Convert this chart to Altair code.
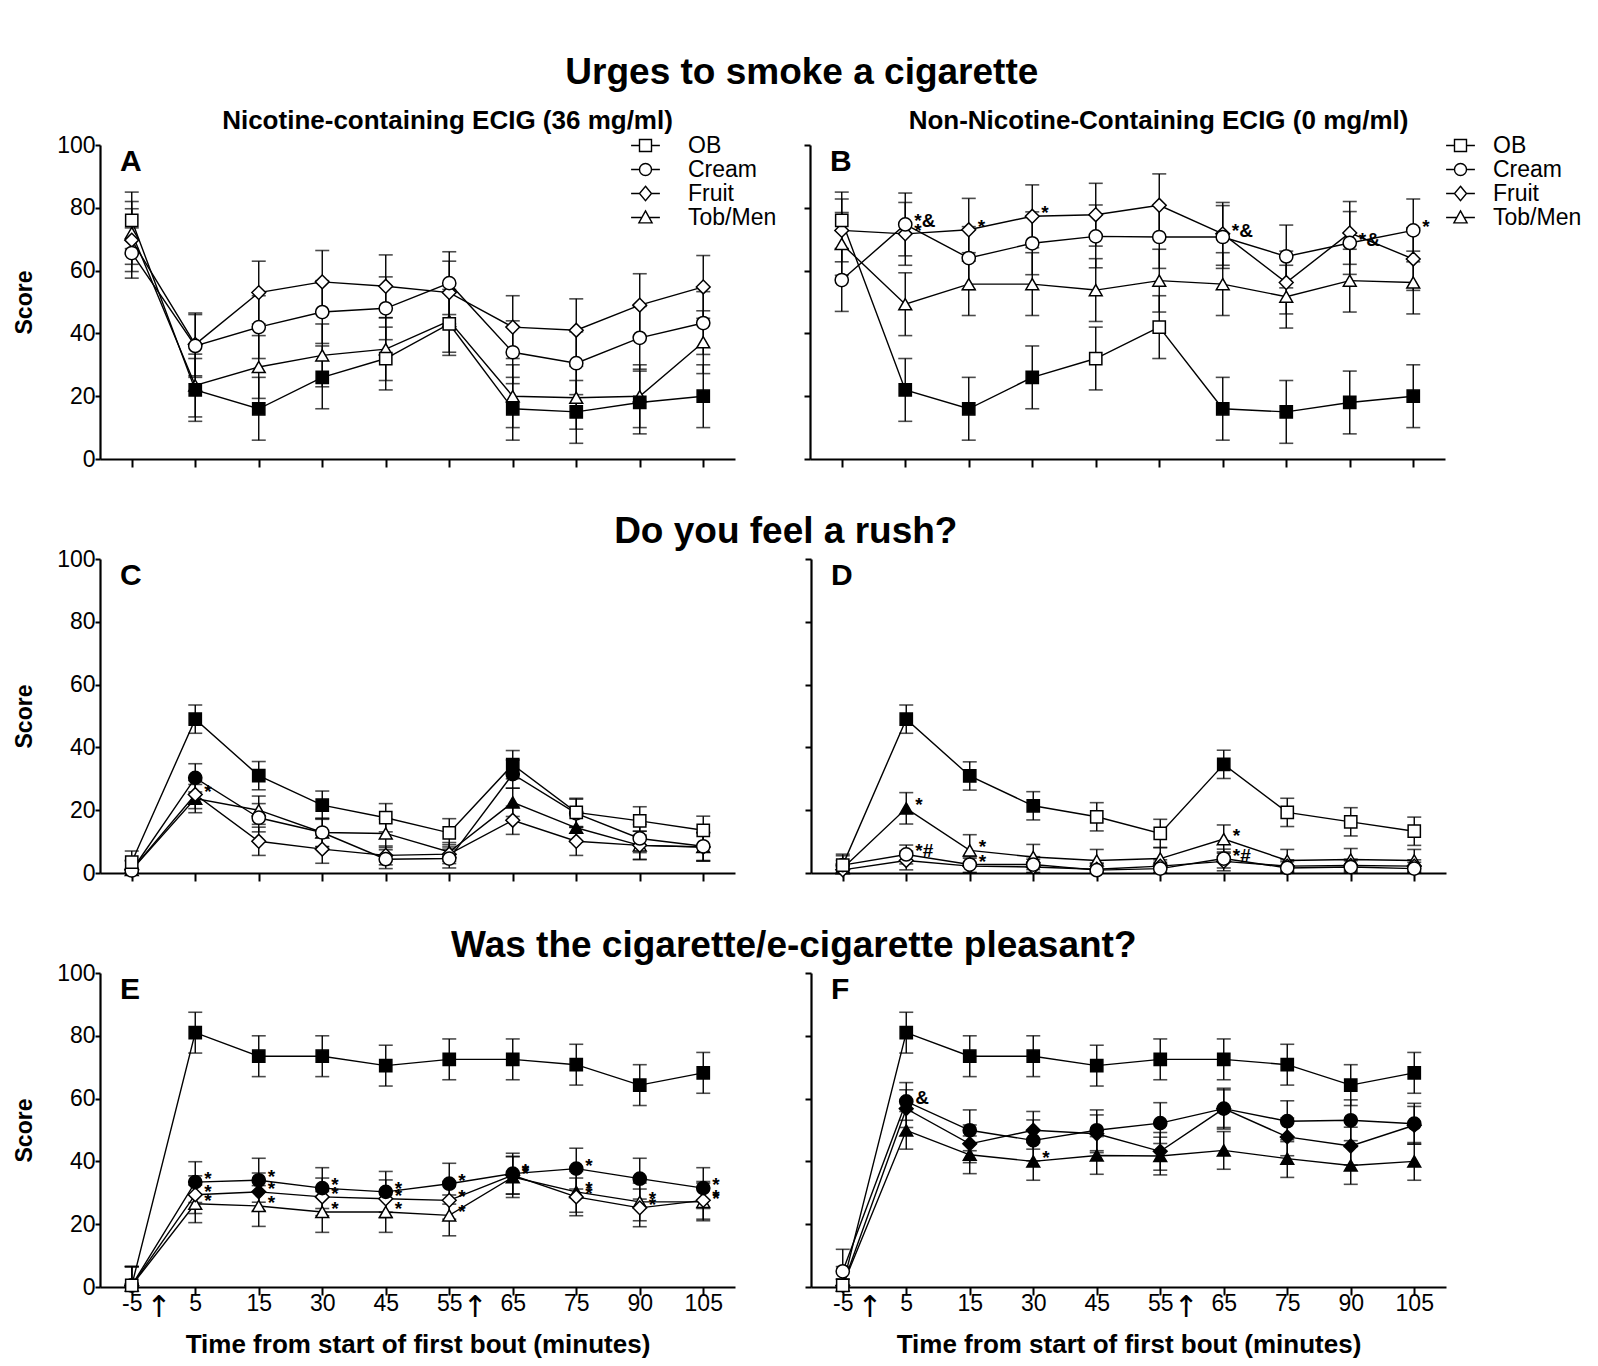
import altair as alt
import pandas as pd

FONT = "Liberation Sans"
TIME_LABELS = ["-5", "5", "15", "30", "45", "55", "65", "75", "90", "105"]
SERIES = ["OB", "Cream", "Fruit", "Tob/Men"]

# ---------------- Panel A: urges, nicotine-containing ECIG ----------------
A_OB = [76, 22, 16, 26, 32, 43, 16, 15, 18, 20]
A_OB_ERR = [9, 10, 10, 10, 10, 10, 10, 10, 10, 10]
A_OB_FILL = [0, 1, 1, 1, 0, 0, 1, 1, 1, 1]
A_CREAM = [65.6, 36, 42, 46.8, 48, 56, 34, 30.5, 38.6, 43.3]
A_CREAM_ERR = [8, 10, 10, 10, 10, 10, 10, 10, 10, 10]
A_FRUIT = [69.7, 36.5, 53, 56.4, 55, 53, 42, 41, 49, 54.8]
A_FRUIT_ERR = [10, 10, 10, 10, 10, 10, 10, 10, 10, 10]
A_TOB = [72, 23.4, 29.3, 33, 35, 44, 20, 19.5, 20, 37.2]
A_TOB_ERR = [10, 10, 10, 10, 10, 10, 10, 10, 10, 10]

# ---------------- Panel B: urges, non-nicotine ECIG ----------------
B_OB = [76, 22, 16, 26, 32, 42, 16, 15, 18, 20]
B_OB_ERR = [9, 10, 10, 10, 10, 10, 10, 10, 10, 10]
B_OB_FILL = [0, 1, 1, 1, 0, 0, 1, 1, 1, 1]
B_CREAM = [57, 74.7, 64, 68.7, 70.9, 70.7, 70.7, 64.5, 68.8, 72.8]
B_CREAM_ERR = [10, 10, 10, 10, 10, 10, 10, 10, 10, 10]
B_FRUIT = [72.8, 71.7, 73, 77.3, 77.8, 80.8, 71.7, 56.2, 72, 63.7]
B_FRUIT_ERR = [10, 10, 10, 10, 10, 10, 10, 10, 10, 10]
B_TOB = [68.5, 49.3, 55.7, 55.7, 53.8, 56.8, 55.7, 51.7, 56.8, 56.2]
B_TOB_ERR = [10, 10, 10, 10, 10, 10, 10, 10, 10, 10]
B_SIG = [("Cream", "5", "*&"), ("Fruit", "5", "*"), ("Fruit", "15", "*"),
         ("Fruit", "30", "*"), ("Fruit", "65", "*&"), ("Cream", "90", "*&"),
         ("Cream", "105", "*")]

# ---------------- Panel C: rush, nicotine ----------------
C_OB = [3.5, 49, 31, 21.6, 17.6, 12.8, 34.5, 19.3, 16.6, 13.6]
C_OB_ERR = [3.5, 4.5, 4.5, 4.5, 4.5, 4.5, 4.5, 4.5, 4.5, 4.5]
C_OB_FILL = [0, 1, 1, 1, 0, 0, 1, 0, 0, 0]
C_CREAM = [0.8, 30.3, 17.6, 12.9, 4.4, 4.6, 31.5, 19, 11, 8.5]
C_CREAM_ERR = [3, 4.5, 4.5, 4.5, 3, 3, 4.5, 4.5, 4.5, 4.5]
C_CREAM_FILL = [0, 1, 0, 0, 0, 0, 1, 0, 0, 0]
C_FRUIT = [1, 25, 10.1, 7.6, 5.6, 6, 16.8, 10.1, 8.8, 8.3]
C_FRUIT_ERR = [3, 4.5, 4.5, 4.5, 3, 3, 4.5, 4.5, 4.5, 4.5]
C_TOB = [1, 23.7, 20, 12.9, 12.6, 6.7, 22.5, 14.4, 8.8, 8.3]
C_TOB_ERR = [3, 4.5, 4.5, 4.5, 4.5, 3, 4.5, 4.5, 4.5, 4.5]
C_TOB_FILL = [0, 1, 0, 0, 0, 0, 1, 1, 0, 0]
C_SIG = [("Fruit", "5", "*")]

# ---------------- Panel D: rush, non-nicotine ----------------
D_OB = [2.5, 49, 30.9, 21.4, 17.9, 12.6, 34.6, 19.3, 16.3, 13.3]
D_OB_ERR = [3.5, 4.5, 4.5, 4.5, 4.5, 4.5, 4.5, 4.5, 4.5, 4.5]
D_OB_FILL = [0, 1, 1, 1, 0, 0, 1, 0, 0, 0]
D_CREAM = [2.5, 5.9, 2.7, 2.7, 0.9, 1.4, 4.6, 1.6, 1.9, 1.4]
D_CREAM_ERR = [3, 3, 2.5, 2.5, 2, 2, 3, 2, 2, 2]
D_FRUIT = [1, 4, 2.2, 1.9, 1.2, 2.2, 3.7, 2.2, 2.4, 2.2]
D_FRUIT_ERR = [2, 3, 2.5, 2.5, 2, 2, 3, 2, 2, 2]
D_TOB = [1.5, 20.6, 7.2, 5.1, 4, 4.6, 10.8, 4, 4.3, 4]
D_TOB_ERR = [2.5, 5, 5, 4, 3.5, 3.5, 4.5, 3.5, 3.5, 3.5]
D_TOB_FILL = [0, 1, 0, 0, 0, 0, 0, 0, 0, 0]
D_SIG = [("Tob/Men", "5", "*"), ("Cream", "5", "*#"), ("Tob/Men", "15", "*"),
         ("Cream", "15", "*"), ("Tob/Men", "65", "*"), ("Cream", "65", "*#")]

# ---------------- Panel E: pleasant, nicotine ----------------
E_OB = [0.5, 81, 73.5, 73.5, 70.5, 72.5, 72.5, 70.8, 64.3, 68.2]
E_OB_ERR = [6, 6.5, 6.5, 6.5, 6.5, 6.5, 6.5, 6.5, 6.5, 6.5]
E_OB_FILL = [0, 1, 1, 1, 1, 1, 1, 1, 1, 1]
E_CREAM = [0.5, 33.4, 34, 31.5, 30.3, 32.9, 36.1, 37.7, 34.5, 31.5]
E_CREAM_ERR = [6, 6.5, 7, 6.5, 6.5, 6.5, 6.5, 6.5, 6.5, 6.5]
E_CREAM_FILL = [0, 1, 1, 1, 1, 1, 1, 1, 1, 1]
E_FRUIT = [0.5, 29.4, 30.3, 28.7, 28.1, 27.6, 35.6, 28.7, 25.2, 27.6]
E_FRUIT_ERR = [6, 6, 6, 6, 6, 6, 6, 6, 6, 6]
E_FRUIT_FILL = [0, 0, 1, 0, 0, 0, 1, 0, 0, 0]
E_TOB = [0.5, 26.5, 25.8, 23.9, 23.9, 22.8, 35, 30.3, 27.1, 27.1]
E_TOB_ERR = [6, 6, 6.5, 6.5, 6.5, 6.5, 6.5, 6.5, 6, 6]
E_TOB_FILL = [0, 0, 0, 0, 0, 0, 1, 1, 0, 0]
E_SIG_CREAM = ["", "*", "*", "*", "*", "*", "*", "*", "", "*"]
E_SIG_FRUIT = ["", "*", "*", "*", "*", "*", "*", "*", "*", "*"]
E_SIG_TOB = ["", "*", "*", "*", "*", "*", "*", "*", "*", "*"]

# ---------------- Panel F: pleasant, non-nicotine ----------------
F_OB = [0.5, 81, 73.5, 73.5, 70.5, 72.5, 72.5, 70.8, 64.3, 68.2]
F_OB_ERR = [6, 6.5, 6.5, 6.5, 6.5, 6.5, 6.5, 6.5, 6.5, 6.5]
F_OB_FILL = [0, 1, 1, 1, 1, 1, 1, 1, 1, 1]
F_CREAM = [5, 59.1, 49.9, 46.7, 49.9, 52.2, 56.8, 52.8, 53.1, 52]
F_CREAM_ERR = [7, 6, 6.5, 6.5, 6.5, 6.5, 6.5, 6.5, 6.5, 6.5]
F_CREAM_FILL = [0, 1, 1, 1, 1, 1, 1, 1, 1, 1]
F_FRUIT = [0.5, 56.8, 45.6, 49.9, 48.8, 43.2, 56.8, 47.8, 44.9, 51.5]
F_FRUIT_ERR = [2, 6, 6, 6, 6, 6, 6, 6, 6, 6]
F_FRUIT_FILL = [0, 1, 1, 1, 1, 1, 1, 1, 1, 1]
F_TOB = [0.5, 49.9, 42.1, 40, 41.9, 41.7, 43.5, 40.9, 38.7, 40]
F_TOB_ERR = [2, 6, 6, 6, 6, 6, 6, 6, 6, 6]
F_TOB_FILL = [0, 1, 1, 1, 1, 1, 1, 1, 1, 1]
F_SIG = [("Cream", "5", "&"), ("Tob/Men", "30", "*")]

ROW_TITLES = ["Urges to smoke a cigarette", "Do you feel a rush?",
              "Was the cigarette/e-cigarette pleasant?"]
SUBTITLES = ["Nicotine-containing ECIG (36 mg/ml)",
             "Non-Nicotine-Containing ECIG  (0 mg/ml)"]
X_TITLE = "Time from start of first bout (minutes)"
Y_TITLE = "Score"
ARROW = "\u2191"

# ---------------- build long table ----------------
rows = []


def add(panel, series, mean, err, fill=None, sig=None):
    sigmap = {}
    if sig:
        for s, t, txt in sig:
            if s == series:
                sigmap[t] = txt
    for i, t in enumerate(TIME_LABELS):
        rows.append(dict(
            panel=panel, series=series, ti=i, val=mean[i],
            lo=max(0.0, mean[i] - err[i]), hi=mean[i] + err[i],
            filled=(fill[i] if fill else 0),
            sig=sigmap.get(t, ""),
        ))


def add_sig_list(panel, series, mean, err, fill, siglist):
    tuples = [(series, TIME_LABELS[i], s) for i, s in enumerate(siglist) if s]
    add(panel, series, mean, err, fill, tuples)


add("A", "Cream", A_CREAM, A_CREAM_ERR)
add("A", "Fruit", A_FRUIT, A_FRUIT_ERR)
add("A", "Tob/Men", A_TOB, A_TOB_ERR)
add("A", "OB", A_OB, A_OB_ERR, A_OB_FILL)

add("B", "Cream", B_CREAM, B_CREAM_ERR, None, B_SIG)
add("B", "Fruit", B_FRUIT, B_FRUIT_ERR, None, B_SIG)
add("B", "Tob/Men", B_TOB, B_TOB_ERR, None, B_SIG)
add("B", "OB", B_OB, B_OB_ERR, B_OB_FILL)

add("C", "Cream", C_CREAM, C_CREAM_ERR, C_CREAM_FILL, C_SIG)
add("C", "Fruit", C_FRUIT, C_FRUIT_ERR, None, C_SIG)
add("C", "Tob/Men", C_TOB, C_TOB_ERR, C_TOB_FILL, C_SIG)
add("C", "OB", C_OB, C_OB_ERR, C_OB_FILL)

add("D", "Cream", D_CREAM, D_CREAM_ERR, None, D_SIG)
add("D", "Fruit", D_FRUIT, D_FRUIT_ERR, None, D_SIG)
add("D", "Tob/Men", D_TOB, D_TOB_ERR, D_TOB_FILL, D_SIG)
add("D", "OB", D_OB, D_OB_ERR, D_OB_FILL)

add_sig_list("E", "Cream", E_CREAM, E_CREAM_ERR, E_CREAM_FILL, E_SIG_CREAM)
add_sig_list("E", "Fruit", E_FRUIT, E_FRUIT_ERR, E_FRUIT_FILL, E_SIG_FRUIT)
add_sig_list("E", "Tob/Men", E_TOB, E_TOB_ERR, E_TOB_FILL, E_SIG_TOB)
add("E", "OB", E_OB, E_OB_ERR, E_OB_FILL)

add("F", "Cream", F_CREAM, F_CREAM_ERR, F_CREAM_FILL, F_SIG)
add("F", "Fruit", F_FRUIT, F_FRUIT_ERR, F_FRUIT_FILL, F_SIG)
add("F", "Tob/Men", F_TOB, F_TOB_ERR, F_TOB_FILL, F_SIG)
add("F", "OB", F_OB, F_OB_ERR, F_OB_FILL)

df = pd.DataFrame(rows)

SHAPES = {"OB": "square", "Cream": "circle", "Fruit": "diamond", "Tob/Men": "triangle-up"}
SIZES = {"OB": 150, "Cream": 175, "Fruit": 190, "Tob/Men": 165}
# legend glyphs: symbol with a short line through it ("-o-")
LEGEND_PATHS = [
    "M-2.4,0H-1M1,0H2.4M-1,-1H1V1H-1Z",
    "M-2.4,0H-1M1,0H2.4M1,0A1,1,0,1,1,-1,0A1,1,0,1,1,1,0Z",
    "M-2.4,0H-1M1,0H2.4M0,-1.2L1,0L0,1.2L-1,0Z",
    "M-2.4,0H-0.55M0.55,0H2.4M0,-1.1L1.1,0.9H-1.1Z",
]

W, H = 635, 314
XSCALE = alt.Scale(domain=[-0.5, 9.5], nice=False, zero=False)
YSCALE = alt.Scale(domain=[0, 100], nice=False)

# arrows mark the starts of the two bouts, slightly left of the midpoint
ARROW_POS = [0.42, 5.4]
LABEL_EXPR = ("datum.value % 1 != 0 ? '" + ARROW + "' : ["
              + ",".join("'" + s + "'" for s in TIME_LABELS) + "][round(datum.value)]")

AX_COMMON = dict(domainColor="black", domainWidth=2.2, tickColor="black", tickWidth=2,
                 labelColor="black", labelFont=FONT, titleFont=FONT, grid=False,
                 titleColor="black")


def x_axis(bottom):
    if bottom:
        vals = sorted(list(range(10)) + ARROW_POS)
        return alt.Axis(values=vals,
                        labelExpr=LABEL_EXPR,
                        labelFontSize={"condition": {"test": "datum.value % 1 != 0", "value": 30},
                                       "value": 23},
                        labelFont={"condition": {"test": "datum.value % 1 != 0",
                                                 "value": "DejaVu Sans"},
                                   "value": FONT},
                        labelOverlap=False, labelFlush=False, labelBound=False,
                        labelPadding=-3, tickSize=8,
                        tickOpacity={"condition": {"test": "datum.value % 1 != 0", "value": 0},
                                     "value": 1},
                        title=X_TITLE, titleFontSize=26, titleFontWeight="bold",
                        titlePadding=9, domainColor="black", domainWidth=2.2,
                        tickColor="black", tickWidth=2, labelColor="black",
                        titleFont=FONT, grid=False, titleColor="black")
    return alt.Axis(values=list(range(10)), labels=False, tickSize=8, title=None,
                    **AX_COMMON)


def y_axis(first):
    if first:
        return alt.Axis(values=[0, 20, 40, 60, 80, 100], labelFontSize=23, tickSize=5,
                        labelPadding=0, title=Y_TITLE, titleFontSize=23,
                        titleFontWeight="bold", titlePadding=20, **AX_COMMON)
    return alt.Axis(values=[0, 20, 40, 60, 80, 100], labels=False, tickSize=6,
                    title=None, **AX_COMMON)


def panel(key, first, bottom, subtitle=None, legend_x=None, label_offset=26,
          sub_dx=30):
    d = df[df.panel == key]
    base = alt.Chart(d)
    X = alt.X("ti:Q", scale=XSCALE, axis=x_axis(bottom))
    Y = alt.Y("val:Q", scale=YSCALE, axis=y_axis(first))

    lines = base.mark_line(color="black", strokeWidth=1.4).encode(
        x=X, y=Y, detail="series:N", order="ti:Q")
    bars = base.mark_rule(color="black", strokeWidth=1.4).encode(
        x=X, y=alt.Y("lo:Q", scale=YSCALE, axis=y_axis(first)), y2="hi:Q")
    cap_lo = base.mark_tick(color="black", orient="horizontal", size=14, thickness=1.6).encode(
        x=X, y=alt.Y("lo:Q", scale=YSCALE, axis=y_axis(first)))
    cap_hi = base.mark_tick(color="black", orient="horizontal", size=14, thickness=1.6).encode(
        x=X, y=alt.Y("hi:Q", scale=YSCALE, axis=y_axis(first)))
    layers = [lines, bars, cap_lo, cap_hi]
    for s in ["Tob/Men", "Fruit", "Cream", "OB"]:
        layers.append(
            base.transform_filter(alt.datum.series == s)
            .mark_point(shape=SHAPES[s], size=SIZES[s], filled=True, stroke="black",
                        strokeWidth=1.5, opacity=1)
            .encode(x=X, y=Y,
                    fill=alt.condition(alt.datum.filled == 1, alt.value("black"),
                                       alt.value("white")))
        )
    sig = base.transform_filter(alt.datum.sig != "").mark_text(
        align="left", baseline="middle", dx=9, dy=-3, fontSize=19, fontWeight="bold",
        font=FONT, color="black").encode(x=X, y=Y, text="sig:N")
    layers.append(sig)
    letter = alt.Chart(pd.DataFrame({"t": [key]})).mark_text(
        align="left", baseline="top", fontSize=30, fontWeight="bold", font=FONT,
        color="black").encode(x=alt.value(20), y=alt.value(2), text="t:N")
    layers.append(letter)
    if legend_x is not None:
        # invisible points that only carry the shape legend
        leg = base.mark_point(
            filled=False, color="black", size=144, strokeWidth=1.4,
            opacity=0).encode(
            x=X, y=Y,
            shape=alt.Shape("series:N",
                            scale=alt.Scale(domain=SERIES, range=LEGEND_PATHS),
                            legend=alt.Legend(title=None, orient="none", legendX=legend_x,
                                              legendY=-11, labelFontSize=23, labelFont=FONT,
                                              labelColor="black", symbolSize=144,
                                              symbolStrokeWidth=1.4,
                                              symbolFillColor="white",
                                              symbolStrokeColor="black",
                                              symbolOpacity=1,
                                              labelOffset=label_offset, rowPadding=0,
                                              padding=0)))
        layers.append(leg)
    props = dict(width=W, height=H)
    if subtitle:
        props["title"] = alt.Title(subtitle, fontSize=26, fontWeight="bold", font=FONT,
                                   anchor="middle", dx=sub_dx, offset=0, color="black")
    return alt.layer(*layers).properties(**props)


def row_title(t, dx, offset):
    return alt.Title(t, fontSize=37, fontWeight="bold", font=FONT, anchor="middle",
                     color="black", offset=offset, dx=dx)


row1 = alt.hconcat(
    panel("A", True, False, SUBTITLES[0], legend_x=534, label_offset=31, sub_dx=30),
    panel("B", False, False, SUBTITLES[1], legend_x=639, label_offset=21, sub_dx=31),
    spacing=26, title=row_title(ROW_TITLES[0], 4, 16),
).resolve_scale(shape="independent").resolve_legend(shape="independent")
row2 = alt.hconcat(
    panel("C", True, False), panel("D", False, False),
    spacing=69, title=row_title(ROW_TITLES[1], 56, -3),
)
row3 = alt.hconcat(
    panel("E", True, True), panel("F", False, True),
    spacing=69, title=row_title(ROW_TITLES[2], 64, -3),
)

chart = alt.vconcat(row1, row2, row3, spacing=42).properties(
    padding={"left": 5, "top": 46, "right": 5, "bottom": 5}
).configure_view(stroke=None)

chart.save("out.html", embed_options={"renderer": "svg", "actions": False})
